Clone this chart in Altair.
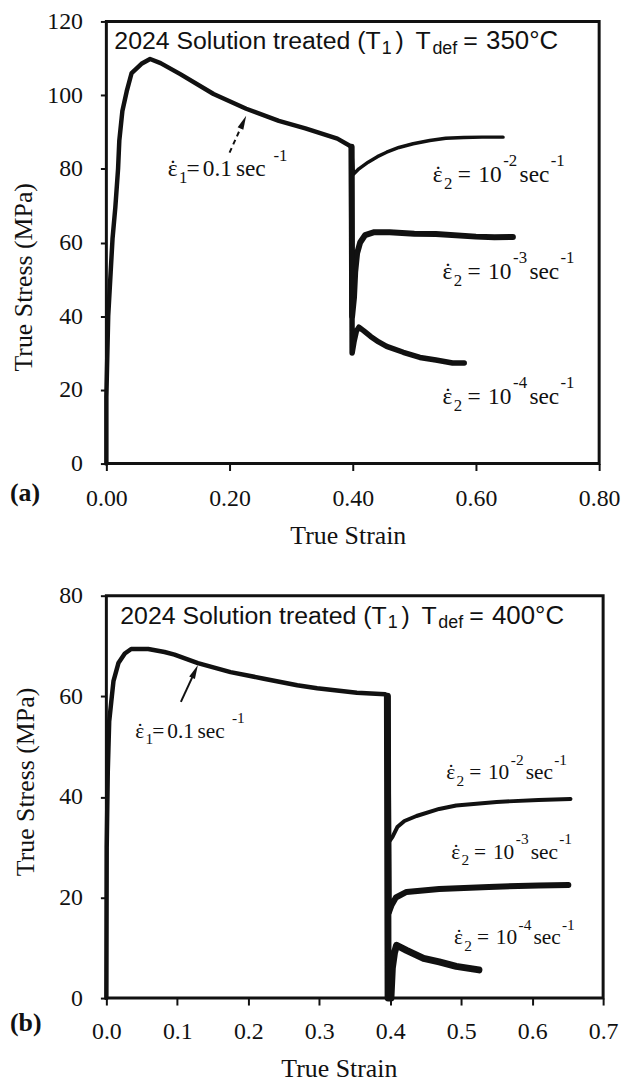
import math
import altair as alt
import pandas as pd

# ---------------- data ----------------
# Panel (a): T_def = 350 C
a_main_x = [0.000, 0.000, 0.003, 0.007, 0.010, 0.0146, 0.019, 0.021, 0.026, 0.033, 0.041, 0.057,
            0.071, 0.088, 0.120, 0.174, 0.227, 0.280, 0.323, 0.375, 0.398]
a_main_y = [0, 18, 40, 52, 61, 69.6, 80, 87.6, 95.7, 101, 106, 108.5,
            109.8, 108.7, 105.7, 100.3, 96.3, 93.0, 91.0, 88.2, 86.0]
a_r2_x = [0.398, 0.401, 0.410, 0.425, 0.440, 0.455, 0.475, 0.498, 0.525, 0.551, 0.580, 0.610, 0.644]
a_r2_y = [86, 78.5, 80, 81.8, 83.3, 84.5, 85.8, 86.8, 87.7, 88.3, 88.5, 88.6, 88.6]
a_r3_x = [0.398, 0.399, 0.402, 0.404, 0.407, 0.412, 0.420, 0.435, 0.460, 0.500, 0.535, 0.600, 0.630, 0.660]
a_r3_y = [86, 40, 45, 52, 57, 60, 62, 62.8, 62.8, 62.4, 62.3, 61.6, 61.4, 61.5]
a_r4_x = [0.398, 0.399, 0.402, 0.406, 0.410, 0.418, 0.429, 0.442, 0.455, 0.482, 0.509, 0.535, 0.562, 0.581]
a_r4_y = [86, 30, 33, 36, 37, 36, 34.5, 33, 31.8, 30.2, 28.8, 28.1, 27.3, 27.3]

# Panel (b): T_def = 400 C
b_main_x = [0.000, 0.0005, 0.002, 0.004, 0.007, 0.010, 0.017, 0.026, 0.035, 0.059, 0.082, 0.096,
            0.129, 0.175, 0.222, 0.269, 0.297, 0.353, 0.393, 0.396]
b_main_y = [0, 30, 45, 55, 59, 63, 66.6, 68.5, 69.4, 69.4, 68.8, 68.3,
            66.6, 64.8, 63.5, 62.2, 61.6, 60.7, 60.4, 60]
b_r2_x = [0.396, 0.398, 0.403, 0.410, 0.420, 0.437, 0.469, 0.493, 0.550, 0.609, 0.654]
b_r2_y = [60, 31, 32, 34, 35.2, 36.2, 37.6, 38.3, 39.0, 39.4, 39.6]
b_r3_x = [0.396, 0.398, 0.402, 0.408, 0.423, 0.469, 0.539, 0.609, 0.651]
b_r3_y = [60, 17, 18.5, 20, 21.1, 21.7, 22.1, 22.4, 22.5]
b_r4_x = [0.396, 0.397, 0.401, 0.403, 0.406, 0.409, 0.423, 0.447, 0.469, 0.493, 0.525]
b_r4_y = [60, 0, 0, 6, 9, 10.5, 9.5, 7.9, 7.2, 6.3, 5.6]

# annotation texts and anchors (data units)
title_left = "2024 Solution treated (T"
title_sub = "1"
title_tdef = "def"
title_temps = ["350°C", "400°C"]
title_anchor_x = [0.4454, 0.395]
title_anchor_y = [112.46, 74.47]

rate_subs = ["1", "2", "2", "2"]
rate_vals = ["0.1", "-2", "-3", "-4"]
a_label_x = [0.0996, 0.5299, 0.5458, 0.5458]
a_label_y = [77.94, 76.32, 50.2, 16.2]
b_label_x = [0.0406, 0.479, 0.486, 0.490]
b_label_y = [51.75, 43.46, 27.65, 10.67]

panel_letters = ["(a)", "(b)"]
letter_x = [-0.1565, -0.1358]
letter_y = [-10.2, -6.5]

# arrow tail -> tip (data units)
a_arrow = [(0.200, 84.4), (0.227, 94.4)]
b_arrow = [(0.105, 58.9), (0.129, 66.2)]

a_xticks = [0.0, 0.2, 0.4, 0.6, 0.8]
a_yticks = [0, 20, 40, 60, 80, 100, 120]
b_xticks = [0.0, 0.1, 0.2, 0.3, 0.4, 0.5, 0.6, 0.7]
b_yticks = [0, 20, 40, 60, 80]

# ---------------- styling ----------------
SERIF = "Liberation Serif"
SANS = "Liberation Sans"
INK = "#111111"


def panel(W, H, xmax, ymax, xticks, yticks, xfmt, curves, widths, labels_x, labels_y,
          arrow, dashed, temp, t_ax, t_ay, letter, l_x, l_y, fs,
          y_title_pad, y_title_y, x_label_pad, x_title_pad, x_title_x):
    kx = W / xmax
    ky = H / ymax
    xs = alt.Scale(domain=[0, xmax], nice=False, zero=True)
    ys = alt.Scale(domain=[0, ymax], nice=False, zero=True)
    xaxis = alt.Axis(values=xticks, format=xfmt, title="True Strain", labelFontSize=24,
                     tickSize=7, labelPadding=x_label_pad, titleFontSize=26, labelFlush=False,
                     titlePadding=x_title_pad, titleX=x_title_x)
    yaxis = alt.Axis(values=yticks, format="d", title="True Stress (MPa)", labelFontSize=24,
                     tickSize=6, labelPadding=18, titleFontSize=26, labelFlush=False,
                     titlePadding=y_title_pad, titleY=y_title_y)

    def enc(ch):
        return ch.encode(
            x=alt.X("strain:Q", scale=xs, axis=xaxis),
            y=alt.Y("stress:Q", scale=ys, axis=yaxis),
        )

    layers = []
    for (cx, cy), w in zip(curves, widths):
        df = pd.DataFrame({"strain": cx, "stress": cy, "i": list(range(len(cx)))})
        layers.append(enc(alt.Chart(df).mark_line(color=INK, strokeWidth=w, strokeJoin="round",
                                                  strokeCap="round")).encode(order="i:Q"))

    # arrow
    (tx, ty), (hx, hy) = arrow
    dxp = (hx - tx) * kx
    dyp = (hy - ty) * ky
    ang = math.degrees(math.atan2(dxp, dyp))
    L = 14.0
    cxh = hx - (L / 2) * math.sin(math.radians(ang)) / kx
    cyh = hy - (L / 2) * math.cos(math.radians(ang)) / ky
    rule_df = pd.DataFrame({"strain": [tx], "stress": [ty], "strain2": [cxh], "stress2": [cyh]})
    rule_kw = dict(color=INK, strokeWidth=2)
    if dashed:
        rule_kw["strokeDash"] = [5, 4]
    layers.append(enc(alt.Chart(rule_df).mark_rule(**rule_kw)).encode(x2="strain2:Q", y2="stress2:Q"))
    head_df = pd.DataFrame({"strain": [cxh], "stress": [cyh]})
    layers.append(enc(alt.Chart(head_df).mark_point(shape="M0,-1L0.45,1L-0.45,1Z", filled=True,
                                                    size=L * L, angle=round(ang, 2), color=INK,
                                                    opacity=1, strokeWidth=0)))

    # rate labels (serif rich text)
    rows = []
    for sub, val, ax, ay in zip(rate_subs, rate_vals, labels_x, labels_y):
        if val == "0.1":
            spec = [("\u03b5", 0, 0, 1), ("\u02d9", 0.06, 0, 1), (sub, .48, .3, .72), ("=", .8, 0, 1),
                    (val, 1.5, 0, 1), ("sec", 2.92, 0, 1), ("-1", 4.53, -.68, .72)]
        else:
            spec = [("\u03b5", 0, 0, 1), ("\u02d9", 0.06, 0, 1), (sub, .48, .3, .72), ("=", 1.07, 0, 1),
                    ("10", 1.95, 0, 1), (val, 3.02, -.68, .72), ("sec", 3.72, 0, 1),
                    ("-1", 5.05, -.68, .72)]
        for t, dx, dy, s in spec:
            rows.append({"strain": ax + dx * fs / kx, "stress": ay - dy * fs / ky, "text": t, "size": s * fs})
    tdf = pd.DataFrame(rows)
    layers.append(enc(alt.Chart(tdf).mark_text(font=SERIF, align="left", baseline="alphabetic",
                                               color=INK)).encode(text="text:N",
                                                                  size=alt.Size("size:Q", scale=None)))

    # title (sans rich text)
    left_df = pd.DataFrame({"strain": [t_ax], "stress": [t_ay], "text": [title_left]})
    layers.append(enc(alt.Chart(left_df).mark_text(font=SANS, align="right", baseline="alphabetic",
                                                   fontSize=25, color=INK)).encode(text="text:N"))
    tspec = [(title_sub, 1, 5, 18), (")", 15, 0, 25), ("T", 35, 0, 25), (title_tdef, 52, 5, 18),
             ("=", 83, 0, 25), (temp, 106, 0, 26)]
    trows = [{"strain": t_ax + dx / kx, "stress": t_ay - dy / ky, "text": t, "size": s}
             for t, dx, dy, s in tspec]
    layers.append(enc(alt.Chart(pd.DataFrame(trows)).mark_text(font=SANS, align="left",
                                                               baseline="alphabetic", color=INK))
                  .encode(text="text:N", size=alt.Size("size:Q", scale=None)))

    # panel letter
    ldf = pd.DataFrame({"strain": [l_x], "stress": [l_y], "text": [letter]})
    layers.append(enc(alt.Chart(ldf).mark_text(font=SERIF, fontWeight="bold", fontSize=26,
                                               align="left", baseline="alphabetic", color=INK))
                  .encode(text="text:N"))

    return alt.layer(*layers).properties(width=W, height=H)


top = panel(496, 445, 0.8, 120, a_xticks, a_yticks, ".2f",
            [(a_main_x, a_main_y), (a_r2_x, a_r2_y), (a_r3_x, a_r3_y), (a_r4_x, a_r4_y)],
            [4.5, 3.5, 6, 5.5], a_label_x, a_label_y, a_arrow, True,
            title_temps[0], title_anchor_x[0], title_anchor_y[0],
            panel_letters[0], letter_x[0], letter_y[0], 23.5,
            10, 257, 16, 12, 243)

bottom = panel(500, 405, 0.7, 80, b_xticks, b_yticks, ".1f",
               [(b_main_x, b_main_y), (b_r2_x, b_r2_y), (b_r3_x, b_r3_y), (b_r4_x, b_r4_y)],
               [4.5, 4, 6, 7], b_label_x, b_label_y, b_arrow, False,
               title_temps[1], title_anchor_x[1], title_anchor_y[1],
               panel_letters[1], letter_x[1], letter_y[1], 21.5,
               20, 187, 15, 12, 234)

chart = alt.vconcat(top, bottom, spacing=32).properties(
    padding={"left": 0, "top": -4, "right": 0, "bottom": 5},
).configure_view(
    stroke=INK, strokeWidth=3
).configure_axis(
    domain=False, grid=False, tickColor=INK, tickWidth=2, labelColor=INK, titleColor=INK,
    labelFont=SERIF, titleFont=SERIF, titleFontWeight="normal"
)

chart.save("out.html", embed_options={"renderer": "svg", "actions": False})
